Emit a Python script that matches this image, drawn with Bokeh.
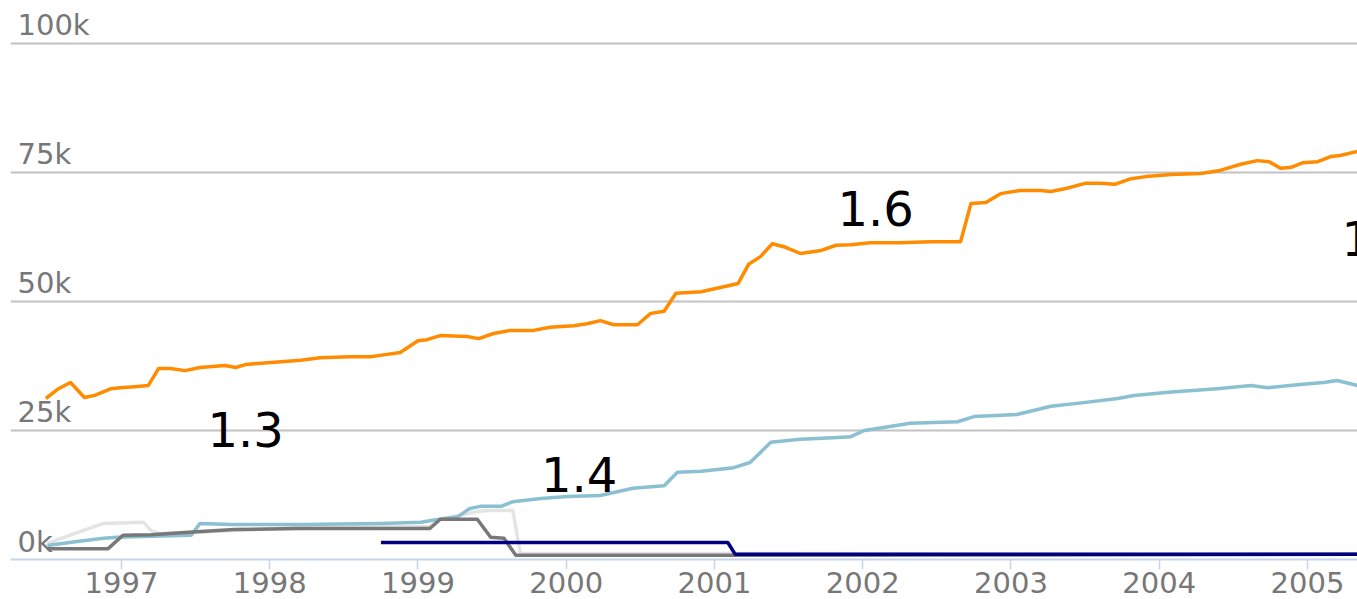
from bokeh.plotting import figure
from bokeh.models import FixedTicker, Range1d, Grid, ColumnDataSource
from bokeh.core.properties import value
from bokeh.embed import file_html
from bokeh.resources import INLINE

# ---------------- data ----------------
year_ticks = [1997, 1998, 1999, 2000, 2001, 2002, 2003, 2004, 2005]
value_ticks = [0, 25000, 50000, 75000, 100000]
value_tick_labels = ["0k", "25k", "50k", "75k", "100k"]

orange_years = [1996.49, 1996.575, 1996.656, 1996.75, 1996.82, 1996.93, 1996.99, 1997.09, 1997.18,
                1997.25, 1997.33, 1997.43, 1997.53, 1997.70, 1997.77, 1997.84, 1998.01, 1998.21,
                1998.34, 1998.54, 1998.68, 1998.78, 1998.88, 1999.00, 1999.06, 1999.15, 1999.33,
                1999.41, 1999.51, 1999.62, 1999.78, 1999.89, 2000.05, 2000.14, 2000.23, 2000.32,
                2000.48, 2000.57, 2000.66, 2000.74, 2000.91, 2001.16, 2001.23, 2001.31, 2001.39,
                2001.48, 2001.58, 2001.72, 2001.82, 2001.92, 2002.05, 2002.25, 2002.46, 2002.66,
                2002.73, 2002.83, 2002.93, 2003.06, 2003.20, 2003.27, 2003.37, 2003.50, 2003.60,
                2003.70, 2003.81, 2003.91, 2004.08, 2004.28, 2004.41, 2004.55, 2004.66, 2004.74,
                2004.82, 2004.89, 2004.97, 2005.07, 2005.16, 2005.22, 2005.34]
orange_values = [31200, 33100, 34300, 31400, 31800, 33100, 33300, 33500, 33700,
                 37000, 37000, 36600, 37200, 37600, 37200, 37800, 38200, 38600,
                 39100, 39300, 39300, 39700, 40100, 42400, 42600, 43400, 43200,
                 42800, 43800, 44400, 44400, 45000, 45300, 45700, 46300, 45500,
                 45500, 47700, 48100, 51600, 51900, 53500, 57200, 58700, 61200,
                 60500, 59300, 59900, 60900, 61000, 61400, 61400, 61600, 61600,
                 69000, 69200, 70900, 71500, 71500, 71300, 71900, 72900, 72900,
                 72700, 73800, 74200, 74600, 74800, 75400, 76600, 77300, 77100,
                 75800, 76000, 76900, 77100, 78100, 78300, 79100]

blue_years = [1996.50, 1996.70, 1996.88, 1996.97, 1997.20, 1997.47, 1997.53, 1997.74, 1998.21,
              1998.75, 1999.02, 1999.10, 1999.27, 1999.35, 1999.42, 1999.56, 1999.64, 1999.83,
              2000.01, 2000.23, 2000.45, 2000.66, 2000.75, 2000.91, 2001.13, 2001.24, 2001.38,
              2001.58, 2001.80, 2001.92, 2002.01, 2002.14, 2002.32, 2002.64, 2002.75, 2003.04,
              2003.27, 2003.49, 2003.72, 2003.83, 2004.06, 2004.39, 2004.62, 2004.73, 2004.95,
              2005.11, 2005.20, 2005.34]
blue_values = [2700, 3500, 4100, 4300, 4500, 4700, 7000, 6800, 6800,
               7000, 7200, 7600, 8300, 9900, 10300, 10300, 11200, 11800,
               12200, 12400, 13800, 14300, 16900, 17100, 17800, 18800, 22700,
               23300, 23600, 23800, 25000, 25600, 26400, 26700, 27700, 28100,
               29700, 30400, 31200, 31800, 32400, 33100, 33700, 33300, 33900,
               34300, 34700, 33700]

gray_years = [1996.50, 1996.91, 1997.01, 1997.20, 1997.40, 1997.76, 1998.21, 1998.75, 1999.08,
              1999.15, 1999.40, 1999.49, 1999.58, 1999.66, 2001.11, 2005.34]
gray_values = [2100, 2100, 4700, 4800, 5200, 5800, 6000, 6000, 6000,
               7800, 7800, 4300, 4100, 800, 800, 1000]

lightgray_years = [1996.50, 1996.70, 1996.88, 1997.15, 1997.20, 1997.26, 1998.21, 1999.08,
                   1999.15, 1999.40, 1999.47, 1999.64, 1999.69, 2005.34]
lightgray_values = [3100, 5200, 7000, 7200, 5600, 5000, 6200, 6400,
                    7800, 9300, 9500, 9500, 1200, 1000]

navy_years = [1998.75, 2001.09, 2001.14, 2005.34]
navy_values = [3300, 3300, 1000, 1000]

version_labels = ["1.3", "1.4", "1.6", "1.5"]
label_years = [1997.58, 1999.83, 2001.83, 2005.23]
label_values = [21500, 12800, 64300, 58500]

# ---------------- figure ----------------
x_start = 1996.2513
px_per_year = 148.25
W, H = 1357, 599
left_pad = 10
x_end = x_start + (W - left_pad) / px_per_year

p = figure(width=W, height=H, x_range=Range1d(x_start, x_end), y_range=Range1d(0, 108330),
           output_backend="svg", toolbar_location=None, y_axis_location=None,
           min_border_left=left_pad, min_border_right=0, min_border_top=0, min_border_bottom=40)
p.outline_line_color = None
p.background_fill_color = "white"
p.border_fill_color = "white"
for g in p.grid:
    g.visible = False

p.add_layout(Grid(dimension=1, ticker=FixedTicker(ticks=value_ticks[1:]),
                  grid_line_color="#c2c2c2", grid_line_width=2))

ax = p.xaxis[0]
ax.ticker = FixedTicker(ticks=year_ticks)
ax.major_label_overrides = {y: str(y) for y in year_ticks}
ax.axis_line_color = "#c5d5ea"
ax.axis_line_width = 2
ax.major_tick_line_color = "#c5d5ea"
ax.major_tick_line_width = 1.5
ax.major_tick_out = 10
ax.major_tick_in = 0
ax.minor_tick_line_color = None
ax.major_label_text_font = "DejaVu Sans"
ax.major_label_text_font_size = "29px"
ax.major_label_text_color = "#777777"
ax.major_label_standoff = 2

lw = 3.5
p.line(lightgray_years, lightgray_values, line_color="#e4e4e4", line_width=lw, line_join="round")
p.line(blue_years, blue_values, line_color="#8bbfd2", line_width=lw, line_join="round")
p.line(gray_years, gray_values, line_color="#787878", line_width=lw, line_join="round")
p.line(navy_years, navy_values, line_color="#000080", line_width=lw, line_join="round")
p.line(orange_years, orange_values, line_color="#ff8c00", line_width=lw, line_join="round")

# y tick labels drawn inside the plot area above the grid lines
ysrc = ColumnDataSource(dict(x=[x_start] * len(value_ticks), y=value_ticks, t=value_tick_labels))
p.text(x="x", y="y", text="t", source=ysrc, x_offset=7, y_offset=-18,
       text_font=value("DejaVu Sans"), text_font_size="29px", text_color="#777777",
       text_align="left", text_baseline="alphabetic")

lsrc = ColumnDataSource(dict(x=label_years, y=label_values, t=version_labels))
p.text(x="x", y="y", text="t", source=lsrc, y_offset=-19,
       text_font=value("DejaVu Sans"), text_font_size="48px", text_color="black",
       text_align="left", text_baseline="alphabetic")

open("out.html", "w").write(file_html(p, INLINE))
